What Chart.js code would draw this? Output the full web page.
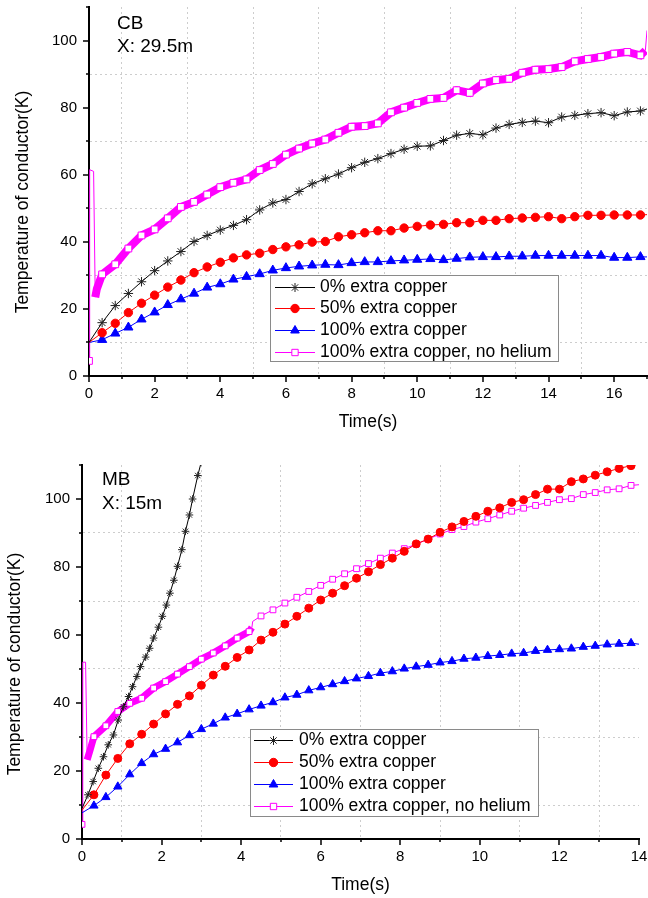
<!DOCTYPE html>
<html>
<head>
<meta charset="utf-8">
<title>Temperature of conductor</title>
<script src="https://cdn.jsdelivr.net/npm/chart.js@4.4.1/dist/chart.umd.min.js"></script>
<style>
  body { margin: 0; background: #fff; }
  .panel { position: absolute; left: 0; width: 648px; }
  canvas { display: block; }
</style>
</head>
<body>
<div class="panel" style="top:0"><canvas id="cbChart" width="648" height="440"></canvas></div>
<div class="panel" style="top:440px"><canvas id="mbChart" width="648" height="458"></canvas></div>
<script>
// ---- CB, X: 29.5m ----
const cbTime = [0, 0.4, 0.8, 1.2, 1.6, 2, 2.4, 2.8, 3.2, 3.6, 4, 4.4, 4.8, 5.2, 5.6, 6, 6.4, 6.8, 7.2, 7.6, 8, 8.4,
  8.8, 9.2, 9.6, 10, 10.4, 10.8, 11.2, 11.6, 12, 12.4, 12.8, 13.2, 13.6, 14, 14.4, 14.8, 15.2, 15.6, 16, 16.4, 16.8, 17];
const cbCopper0 = [10, 15.9, 21.0, 24.6, 28.1, 31.4, 34.3, 37.1, 40.1, 41.9, 43.5, 44.9, 46.6, 49.5, 51.6, 52.6, 55.0,
  57.3, 58.8, 60.2, 62.1, 63.7, 64.8, 66.3, 67.6, 68.5, 68.6, 70.2, 71.8, 72.3, 71.9, 73.9, 75.0, 75.6, 76.0, 75.5,
  77.2, 77.7, 78.2, 78.5, 77.6, 78.7, 79.0, 79.6];
const cbCopper50 = [10, 12.9, 15.7, 18.9, 21.7, 24.1, 26.5, 28.6, 30.8, 32.5, 33.9, 35.2, 36.1, 36.6, 37.7, 38.5, 39.1,
  39.9, 40.1, 41.5, 42.1, 42.7, 43.3, 43.3, 44.1, 44.6, 45.0, 45.2, 45.7, 45.7, 46.4, 46.4, 46.9, 47.1, 47.3, 47.5,
  46.9, 47.5, 47.9, 47.9, 48.0, 48.0, 48.0, 48.1];
const cbCopper100 = [10, 10.8, 12.7, 14.5, 16.9, 19.0, 21.2, 22.9, 24.6, 26.4, 27.4, 28.8, 29.6, 30.4, 31.5, 32.2, 32.7,
  33.0, 33.2, 33.1, 33.7, 34.0, 34.0, 34.3, 34.5, 34.7, 34.9, 34.6, 35.0, 35.4, 35.5, 35.5, 35.7, 35.7, 35.9, 35.9,
  35.9, 35.9, 35.9, 35.9, 35.3, 35.3, 35.5, 35.5];
const cbNoHeTime = [0, 0.02, 0.14, 0.19, 0.24, 0.4, 0.8, 1.2, 1.6, 2, 2.4, 2.8, 3.2, 3.6, 4, 4.4, 4.8, 5.2, 5.6, 6, 6.4,
  6.8, 7.2, 7.6, 8, 8.4, 8.8, 9.2, 9.6, 10, 10.4, 10.8, 11.2, 11.6, 12, 12.4, 12.8, 13.2, 13.6, 14, 14.4, 14.8, 15.2,
  15.6, 16, 16.4, 16.8, 16.95, 17];
const cbNoHe = [4.5, 61.5, 61, 23.5, 26, 30.3, 33.3, 38.0, 41.9, 43.7, 47.0, 50.4, 51.9, 54.1, 56.3, 57.6, 58.6, 61.4,
  63.2, 66.0, 67.8, 69.3, 70.5, 72.5, 74.3, 74.5, 75.3, 78.6, 80.0, 81.4, 82.6, 82.9, 85.2, 84.4, 87.2, 88.2, 88.6,
  90.4, 91.3, 91.5, 92.1, 93.8, 94.5, 95.1, 96.1, 96.6, 95.6, 97, 103];

// ---- MB, X: 15m ----
const mbCopper0Time = [0, 0.15, 0.28, 0.41, 0.54, 0.66, 0.79, 0.91, 1.04, 1.17, 1.27, 1.38, 1.47, 1.6, 1.7, 1.8, 1.92,
  2.02, 2.12, 2.21, 2.31, 2.4, 2.51, 2.6, 2.7, 2.78, 2.91, 3.0];
const mbCopper0 = [9, 13.0, 16.9, 20.8, 24.2, 27.7, 30.6, 35.0, 38.9, 41.9, 44.8, 47.8, 50.7, 53.5, 56.1, 59.1, 62.3,
  65.5, 68.8, 72.3, 76.1, 80.2, 85.1, 90.5, 95.3, 100, 106.9, 111];
const mbTime = [0, 0.3, 0.6, 0.9, 1.2, 1.5, 1.8, 2.1, 2.4, 2.7, 3, 3.3, 3.6, 3.9, 4.2, 4.5, 4.8, 5.1, 5.4, 5.7, 6, 6.3,
  6.6, 6.9, 7.2, 7.5, 7.8, 8.1, 8.4, 8.7, 9, 9.3, 9.6, 9.9, 10.2, 10.5, 10.8, 11.1, 11.4, 11.7, 12, 12.3, 12.6, 12.9,
  13.2, 13.5, 13.8, 14];
const mbCopper50 = [8.5, 13, 18.8, 23.7, 28, 30.8, 33.8, 36.8, 39.6, 42.1, 45.2, 48.2, 50.8, 53.4, 55.6, 58.5, 60.8,
  63.2, 65.5, 67.9, 70.3, 72.3, 74.5, 76.7, 78.6, 80.7, 82.6, 84.6, 86.8, 88.2, 90.2, 91.8, 93.4, 94.9, 96.4, 97.4,
  99, 99.8, 101.3, 102.9, 102.9, 105.1, 105.9, 107, 108, 109, 109.8, 110.3];
const mbCopper100 = [7.7, 9.8, 12.3, 15.4, 19, 22.3, 24.9, 26.5, 28.4, 30.5, 32.3, 33.9, 35.7, 36.8, 38.1, 39.2, 40.2,
  41.6, 42.4, 43.7, 44.6, 45.5, 46.4, 47.2, 47.9, 48.8, 49.3, 50.1, 50.7, 51.2, 51.9, 52.3, 53, 53.3, 53.8, 54.1,
  54.5, 54.7, 55.3, 55.6, 55.8, 56, 56.5, 56.8, 57.2, 57.4, 57.6, 57.3];
const mbNoHeTime = [0, 0.02, 0.09, 0.13, 0.2, 0.3, 0.6, 0.9, 1.2, 1.5, 1.8, 2.1, 2.4, 2.7, 3, 3.3, 3.6, 3.9, 4.2, 4.27,
  4.29, 4.5, 4.8, 5.1, 5.4, 5.7, 6, 6.3, 6.6, 6.9, 7.2, 7.5, 7.8, 8.1, 8.4, 8.7, 9, 9.3, 9.6, 9.9, 10.2, 10.5, 10.8,
  11.1, 11.4, 11.7, 12, 12.3, 12.6, 12.9, 13.2, 13.5, 13.8, 14];
const mbNoHe = [4.3, 52, 52, 23.3, 26, 30.1, 33.3, 37.5, 39.9, 41.4, 44.4, 46.3, 48.5, 50.7, 52.9, 54.7, 56.8, 59.1,
  61.0, 62.2, 64.0, 65.6, 67.4, 69.4, 71.1, 72.8, 74.6, 76.4, 78.0, 79.5, 81.0, 82.6, 84.1, 85.4, 86.7, 88.2, 89.7,
  91.0, 91.9, 93.2, 94.2, 95.3, 96.4, 97.3, 98.1, 99.0, 99.8, 100.1, 101.3, 101.9, 102.7, 103.0, 104.0, 104.2];

const seriesLabels = ['0% extra copper', '50% extra copper', '100% extra copper', '100% extra copper, no helium'];
const yTicksMax = 110;

const FONT = "'Liberation Sans', Arial, sans-serif";
Chart.defaults.font.family = FONT;
Chart.defaults.color = '#000';

function pts(times, vals) {
    return times.map((t, i) => ({ x: t, y: vals[i] }));
}

function onStep(x, step) {
    const k = x / step;
    return Math.abs(k - Math.round(k)) < 1e-6;
}

// markers only every `step` seconds (all points when step is null)
function markEvery(step, r, keepFirst) {
    return ctx => {
        const i = ctx.dataIndex;
        if (i === 0) return keepFirst ? r : 0;
        if (!step) return r;
        return onStep(ctx.dataset.data[i].x, step) ? r : 0;
    };
}

const styles = [
    { borderColor: '#000000', pointStyle: 'star', pointBackgroundColor: '#222', pointBorderColor: '#222' },
    { borderColor: '#ff0000', pointStyle: 'circle', pointBackgroundColor: '#ff0000', pointBorderColor: '#ff0000' },
    { borderColor: '#0000ff', pointStyle: 'triangle', pointBackgroundColor: '#0000ff', pointBorderColor: '#0000ff' },
    { borderColor: '#ff00ff', pointStyle: 'rect', pointBackgroundColor: '#ffffff', pointBorderColor: '#ff00ff' }
];

function makeSet(i, data, radius, extra) {
    return Object.assign({
        label: seriesLabels[i],
        data: data,
        borderWidth: 1,
        pointRadius: radius,
        pointBorderWidth: 1,
        tension: 0,
        fill: false
    }, styles[i], extra || {});
}

// thick band for the no-helium curve between band[0] and band[1]
function bandWidth(band, w) {
    return c => (c.p0.parsed.x >= band[0] && c.p1.parsed.x <= band[1]) ? w : 1;
}

// fixed axis box, no label overflow padding
function fixBox(size) {
    return s => {
        if (s.isHorizontal()) s.height = size; else s.width = size;
        s.paddingTop = s.paddingBottom = s.paddingLeft = s.paddingRight = 0;
    };
}

// tick marks, corner tag, y title and boxed legend
const decor = {
    id: 'decor',
    afterDraw(chart, args, o) {
        const ctx = chart.ctx, area = chart.chartArea;
        const xs = chart.scales.x, ys = chart.scales.y;
        ctx.save();
        ctx.strokeStyle = '#000';
        ctx.lineWidth = 1.5;
        xs.ticks.forEach(t => {
            const px = Math.round(xs.getPixelForValue(t.value));
            const len = t.value % 2 === 0 ? 6 : 3;
            ctx.beginPath();
            ctx.moveTo(px, area.bottom);
            ctx.lineTo(px, area.bottom + len);
            ctx.stroke();
        });
        ys.ticks.forEach(t => {
            const py = Math.round(ys.getPixelForValue(t.value));
            const len = t.value % 20 === 0 ? 6 : 3;
            ctx.beginPath();
            ctx.moveTo(area.left, py);
            ctx.lineTo(area.left - len, py);
            ctx.stroke();
        });

        ctx.fillStyle = '#000';
        ctx.textAlign = 'left';
        ctx.textBaseline = 'alphabetic';
        ctx.font = '19px ' + FONT;
        o.tag.forEach((s, i) => ctx.fillText(s, o.tagX, o.tagY[i]));

        ctx.save();
        ctx.translate(o.yTitle.x, o.yTitle.y);
        ctx.rotate(-Math.PI / 2);
        ctx.textAlign = 'center';
        ctx.font = '17.5px ' + FONT;
        ctx.fillText('Temperature of conductor(K)', 0, 0);
        ctx.restore();

        const L = o.legend;
        ctx.fillStyle = '#fff';
        ctx.fillRect(L.x, L.y, L.w, L.h);
        ctx.strokeStyle = '#8a8a8a';
        ctx.lineWidth = 1;
        ctx.strokeRect(L.x + 0.5, L.y + 0.5, L.w, L.h);
        chart.data.datasets.forEach((ds, i) => {
            const y = Math.round(L.y + L.row0 + i * L.rowH) + 0.5;
            ctx.strokeStyle = ds.borderColor;
            ctx.lineWidth = 1;
            ctx.beginPath();
            ctx.moveTo(L.x + L.s0, y);
            ctx.lineTo(L.x + L.s1, y);
            ctx.stroke();
            ctx.fillStyle = ds.pointBackgroundColor;
            ctx.strokeStyle = ds.pointBorderColor;
            Chart.helpers.drawPoint(ctx, { pointStyle: ds.pointStyle, radius: L.r[i], rotation: 0, borderWidth: 1 },
                L.x + (L.s0 + L.s1) / 2, y);
            ctx.fillStyle = '#000';
            ctx.font = '17.5px ' + FONT;
            ctx.textBaseline = 'middle';
            ctx.fillText(ds.label, L.x + L.tx, y);
        });
        ctx.restore();
    }
};

function makeOptions(xMax, yWidth, xHeight, pad, titlePad, decorOpts) {
    return {
        responsive: false,
        animation: false,
        layout: { padding: pad, autoPadding: false },
        plugins: { legend: { display: false }, tooltip: { enabled: false }, decor: decorOpts },
        scales: {
            x: {
                type: 'linear', min: 0, max: xMax,
                ticks: {
                    stepSize: 1, autoSkip: false, maxRotation: 0, padding: 9,
                    font: { size: 15 }, color: '#000',
                    callback: v => (v % 2 === 0 ? v : '')
                },
                grid: {
                    drawTicks: false, lineWidth: 1,
                    color: c => (c.tick && c.tick.value % 2 !== 0 && c.tick.value !== xMax) ? '#cdcdcd' : 'transparent'
                },
                border: { color: '#000', width: 2, dash: [2, 3] },
                title: { display: true, text: 'Time(s)', font: { size: 17.5 }, color: '#000', padding: { top: 0, bottom: titlePad } },
                afterFit: fixBox(xHeight)
            },
            y: {
                min: 0, max: yTicksMax,
                ticks: {
                    stepSize: 10, autoSkip: false, padding: 12,
                    font: { size: 15 }, color: '#000',
                    callback: v => (v % 20 === 0 ? v : '')
                },
                grid: {
                    drawTicks: false, lineWidth: 1,
                    color: c => (c.tick && c.tick.value % 20 !== 0 && c.tick.value !== yTicksMax) ? '#cdcdcd' : 'transparent'
                },
                border: { color: '#000', width: 2, dash: [2, 3] },
                afterFit: fixBox(yWidth)
            }
        }
    };
}

document.addEventListener('DOMContentLoaded', function() {
    // CB chart
    new Chart(document.getElementById('cbChart'), {
        type: 'line',
        data: {
            datasets: [
                makeSet(0, pts(cbTime, cbCopper0), markEvery(0.4, 4.7, false)),
                makeSet(1, pts(cbTime, cbCopper50), markEvery(0.4, 4.2, false)),
                makeSet(2, pts(cbTime, cbCopper100), markEvery(0.4, 5.3, false)),
                makeSet(3, pts(cbNoHeTime, cbNoHe), markEvery(0.4, 4.8, true),
                    { segment: { borderWidth: bandWidth([0.19, 16.95], 8) } })
            ]
        },
        options: makeOptions(17, 89, 64, { left: 0, right: 1, top: 7, bottom: 0 }, 7.5, {
            tag: ['CB', 'X: 29.5m'], tagX: 117, tagY: [28.5, 52],
            yTitle: { x: 28, y: 202 },
            legend: { x: 270, y: 275, w: 288, h: 86, row0: 11.7, rowH: 21.7, s0: 5, s1: 45, tx: 50, r: [4.5, 4.2, 5, 4.5] }
        }),
        plugins: [decor]
    });

    // MB chart
    new Chart(document.getElementById('mbChart'), {
        type: 'line',
        data: {
            datasets: [
                makeSet(0, pts(mbCopper0Time, mbCopper0), markEvery(null, 3.8, false)),
                makeSet(1, pts(mbTime, mbCopper50), markEvery(0.3, 4, false)),
                makeSet(2, pts(mbTime, mbCopper100), markEvery(0.3, 4.8, false)),
                makeSet(3, pts(mbNoHeTime, mbNoHe), markEvery(0.3, 4.1, true),
                    { segment: { borderWidth: bandWidth([0.13, 4.27], 7) } })
            ]
        },
        options: makeOptions(14, 82, 59, { left: 0, right: 9, top: 25, bottom: 0 }, 2.5, {
            tag: ['MB', 'X: 15m'], tagX: 102, tagY: [45, 68.5],
            yTitle: { x: 19.5, y: 224 },
            legend: { x: 250, y: 289, w: 288, h: 87, row0: 11, rowH: 21.9, s0: 4, s1: 43, tx: 49, r: [4.5, 4.2, 5, 4.5] }
        }),
        plugins: [decor]
    });
});
</script>
</body>
</html>
